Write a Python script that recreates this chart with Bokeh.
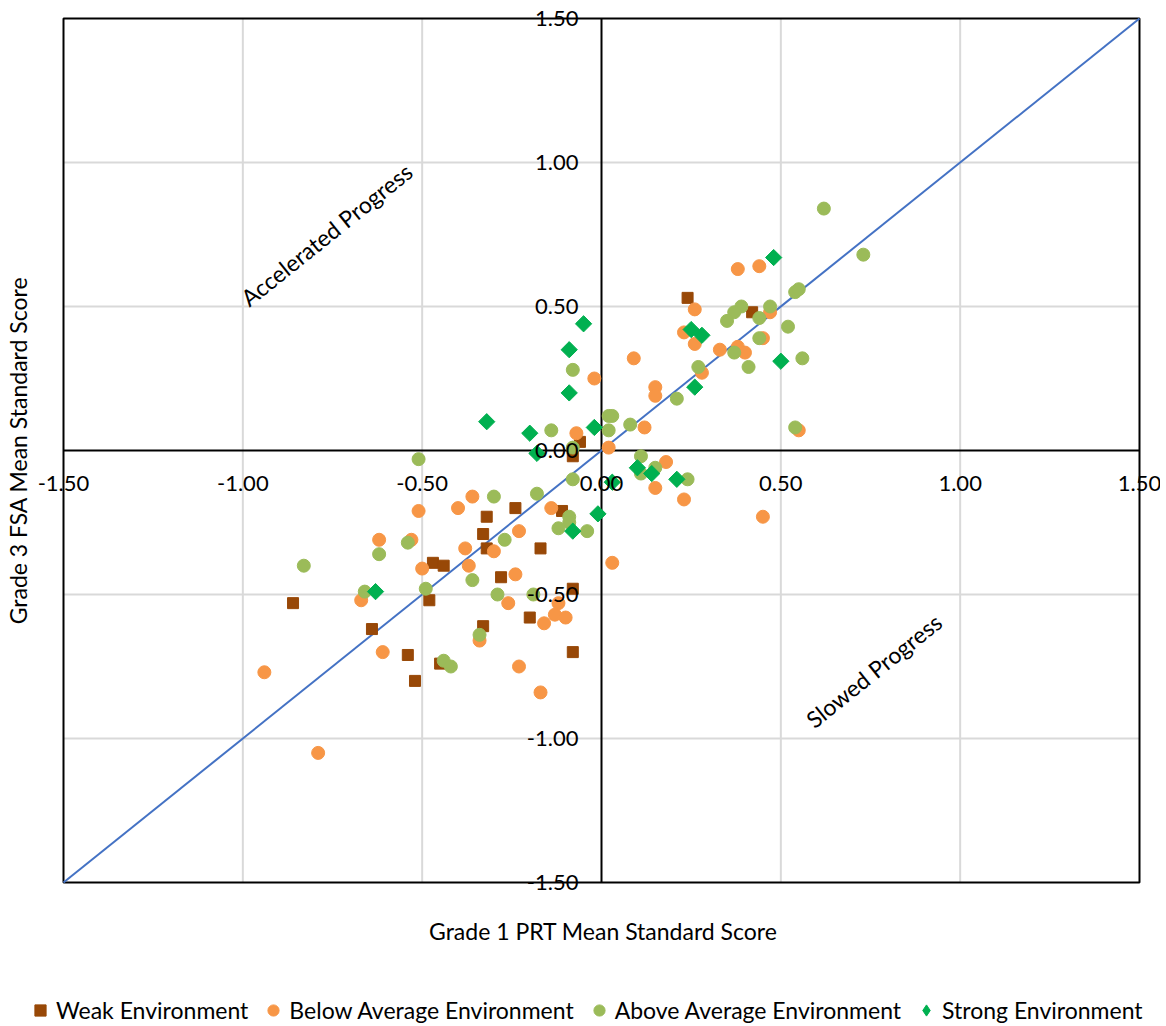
import math
from bokeh.plotting import figure
from bokeh.models import (Range1d, Label, LabelSet, ColumnDataSource, Legend, LegendItem)
from bokeh.core.properties import value
from bokeh.embed import file_html
from bokeh.resources import INLINE

# ---------------- data ----------------
weak_x = [-0.86, -0.64, -0.54, -0.52, -0.47, -0.44, -0.48, -0.45, -0.32, -0.33, -0.32, -0.28,
          -0.33, -0.24, -0.17, -0.20, -0.11, -0.08, -0.08, -0.08, -0.06, 0.24, 0.42]
weak_y = [-0.53, -0.62, -0.71, -0.80, -0.39, -0.40, -0.52, -0.74, -0.23, -0.29, -0.34, -0.44,
          -0.61, -0.20, -0.34, -0.58, -0.21, -0.48, -0.70, -0.02, 0.03, 0.53, 0.48]

below_x = [-0.51, -0.62, -0.53, -0.50, -0.67, -0.61, -0.94, -0.79, -0.36, -0.40, -0.23, -0.14,
           -0.30, -0.38, -0.37, -0.24, -0.26, -0.12, -0.13, -0.10, -0.16, -0.34, -0.23, -0.17,
           0.03, 0.26, 0.23, 0.26, 0.09, -0.02, 0.28, 0.15, 0.15, 0.12, 0.02, -0.07, 0.18,
           0.38, 0.44, 0.38, 0.40, 0.45, 0.47, 0.55, 0.15, 0.23, 0.45, 0.33]
below_y = [-0.21, -0.31, -0.31, -0.41, -0.52, -0.70, -0.77, -1.05, -0.16, -0.20, -0.28, -0.20,
           -0.35, -0.34, -0.40, -0.43, -0.53, -0.53, -0.57, -0.58, -0.60, -0.66, -0.75, -0.84,
           -0.39, 0.49, 0.41, 0.37, 0.32, 0.25, 0.27, 0.22, 0.19, 0.08, 0.01, 0.06, -0.04,
           0.63, 0.64, 0.36, 0.34, 0.39, 0.48, 0.07, -0.13, -0.17, -0.23, 0.35]

above_x = [-0.51, -0.30, -0.18, -0.08, -0.09, -0.09, -0.12, -0.04, -0.27, -0.54, -0.62, -0.83,
           -0.66, -0.49, -0.36, -0.29, -0.19, -0.34, -0.44, -0.42, -0.14, 0.02, 0.03, 0.02,
           -0.08, -0.08, 0.08, 0.21, 0.27, 0.11, 0.15, 0.11, 0.24, 0.62, 0.73, 0.54, 0.55,
           0.39, 0.37, 0.35, 0.47, 0.44, 0.44, 0.52, 0.37, 0.41, 0.56, 0.54]
above_y = [-0.03, -0.16, -0.15, -0.10, -0.23, -0.25, -0.27, -0.28, -0.31, -0.32, -0.36, -0.40,
           -0.49, -0.48, -0.45, -0.50, -0.50, -0.64, -0.73, -0.75, 0.07, 0.12, 0.12, 0.07,
           0.01, 0.28, 0.09, 0.18, 0.29, -0.02, -0.06, -0.08, -0.10, 0.84, 0.68, 0.55, 0.56,
           0.50, 0.48, 0.45, 0.50, 0.46, 0.39, 0.43, 0.34, 0.29, 0.32, 0.08]

strong_x = [-0.32, -0.20, -0.18, -0.09, -0.09, -0.05, -0.02, -0.01, -0.08, -0.63, 0.03, 0.10,
            0.14, 0.21, 0.25, 0.28, 0.26, 0.48, 0.50]
strong_y = [0.10, 0.06, -0.01, 0.35, 0.20, 0.44, 0.08, -0.22, -0.28, -0.49, -0.11, -0.06,
            -0.08, -0.10, 0.42, 0.40, 0.22, 0.67, 0.31]

series_names = ["Weak Environment", "Below Average Environment",
                "Above Average Environment", "Strong Environment"]

ref_line = [-1.5, 1.5]

tick_values = [-1.5, -1.0, -0.5, 0.0, 0.5, 1.0, 1.5]
tick_labels = ["-1.50", "-1.00", "-0.50", "0.00", "0.50", "1.00", "1.50"]

x_title = "Grade 1 PRT Mean Standard Score"
y_title = "Grade 3 FSA Mean Standard Score"
note_up = "Accelerated Progress"
note_down = "Slowed Progress"

# ---------------- layout (pixels) ----------------
W, H = 1160, 1024
BOX_L, BOX_R, BOX_T, BOX_B = 63, 1139, 18, 882   # plot box edges in pixels
lo, hi = tick_values[0], tick_values[-1]
sx = (BOX_R - BOX_L) / (hi - lo)
sy = (BOX_B - BOX_T) / (hi - lo)
x_start = lo - BOX_L / sx
x_end = hi + (W - BOX_R) / sx
y_end = hi + BOX_T / sy
y_start = lo - (H - BOX_B) / sy

FONT = "Lato"
p = figure(width=W, height=H,
           x_range=Range1d(x_start, x_end), y_range=Range1d(y_start, y_end),
           x_axis_location=None, y_axis_location=None,
           toolbar_location=None, output_backend="svg",
           min_border=0)
p.outline_line_color = None
p.grid.visible = False
p.background_fill_color = "white"
p.border_fill_color = "white"

inner = [t for t in tick_values if 0 < abs(t) < hi]
n = len(inner)
# gridlines
p.segment(x0=inner, y0=[lo] * n, x1=inner, y1=[hi] * n,
          line_color="#d9d9d9", line_width=2)
p.segment(x0=[lo] * n, y0=inner, x1=[hi] * n, y1=inner,
          line_color="#d9d9d9", line_width=2)
# zero axes
p.segment(x0=[lo, 0.0], y0=[0.0, lo], x1=[hi, 0.0], y1=[0.0, hi],
          line_color="black", line_width=2)
# plot box border
p.quad(left=[lo], right=[hi], bottom=[lo], top=[hi],
       fill_color=None, line_color="black", line_width=2)

p.line(ref_line, ref_line, line_color="#4472C4", line_width=2)

r_weak = p.scatter(weak_x, weak_y, marker="square", size=11,
                   fill_color="#984807", line_color="#984807")
r_below = p.scatter(below_x, below_y, marker="circle", size=13,
                    fill_color="#F79646", line_color="#F79646")
r_above = p.scatter(above_x, above_y, marker="circle", size=13,
                    fill_color="#9BBB59", line_color="#9BBB59")
r_strong = p.scatter(strong_x, strong_y, marker="square", angle=math.pi / 4, size=11.5,
                     fill_color="#00B050", line_color="#00B050")
# hidden twin used only for the legend key (legend keys are drawn unrotated)
r_strong_key = p.scatter(strong_x, strong_y, marker="diamond", size=14,
                         fill_color="#00B050", line_color="#00B050", visible=False)

# tick labels placed along the zero axes
xsrc = ColumnDataSource(dict(x=tick_values, y=[0.0] * len(tick_values), t=tick_labels))
p.add_layout(LabelSet(x="x", y="y", text="t", source=xsrc, y_offset=-33,
                      text_align="center", text_baseline="middle",
                      text_font=value(FONT), text_font_size="22px", text_color="black"))
ysrc = ColumnDataSource(dict(x=[0.0] * len(tick_values), y=tick_values, t=tick_labels))
p.add_layout(LabelSet(x="x", y="y", text="t", source=ysrc, x_offset=-23,
                      text_align="right", text_baseline="middle",
                      text_font=value(FONT), text_font_size="22px", text_color="black"))

# axis titles
p.add_layout(Label(x=0.005, y=-1.67, text=x_title, text_align="center",
                   text_baseline="middle", text_font=FONT, text_font_size="23px",
                   text_color="black"))
p.add_layout(Label(x=-1.626, y=0.0, text=y_title, angle=math.pi / 2,
                   text_align="center", text_baseline="middle", text_font=FONT,
                   text_font_size="23px", text_color="black"))

# region notes
slope_angle = math.atan2(sy, sx)
p.add_layout(Label(x=-0.767, y=0.75, text=note_up, angle=slope_angle,
                   text_align="center", text_baseline="middle", text_font=FONT,
                   text_font_size="23px", text_color="black"))
p.add_layout(Label(x=0.759, y=-0.764, text=note_down, angle=slope_angle,
                   text_align="center", text_baseline="middle", text_font=FONT,
                   text_font_size="23px", text_color="black"))

legend = Legend(items=[LegendItem(label=series_names[0], renderers=[r_weak]),
                       LegendItem(label=series_names[1], renderers=[r_below]),
                       LegendItem(label=series_names[2], renderers=[r_above]),
                       LegendItem(label=series_names[3], renderers=[r_strong_key])],
                orientation="horizontal", location=(26, 0),
                border_line_color=None, background_fill_alpha=0,
                inactive_fill_alpha=0,
                label_text_font=FONT, label_text_font_size="23px",
                label_text_color="black",
                glyph_width=28, glyph_height=28, label_standoff=2,
                spacing=11, padding=2, margin=0)
p.add_layout(legend)

open("out.html", "w").write(file_html(p, INLINE))
